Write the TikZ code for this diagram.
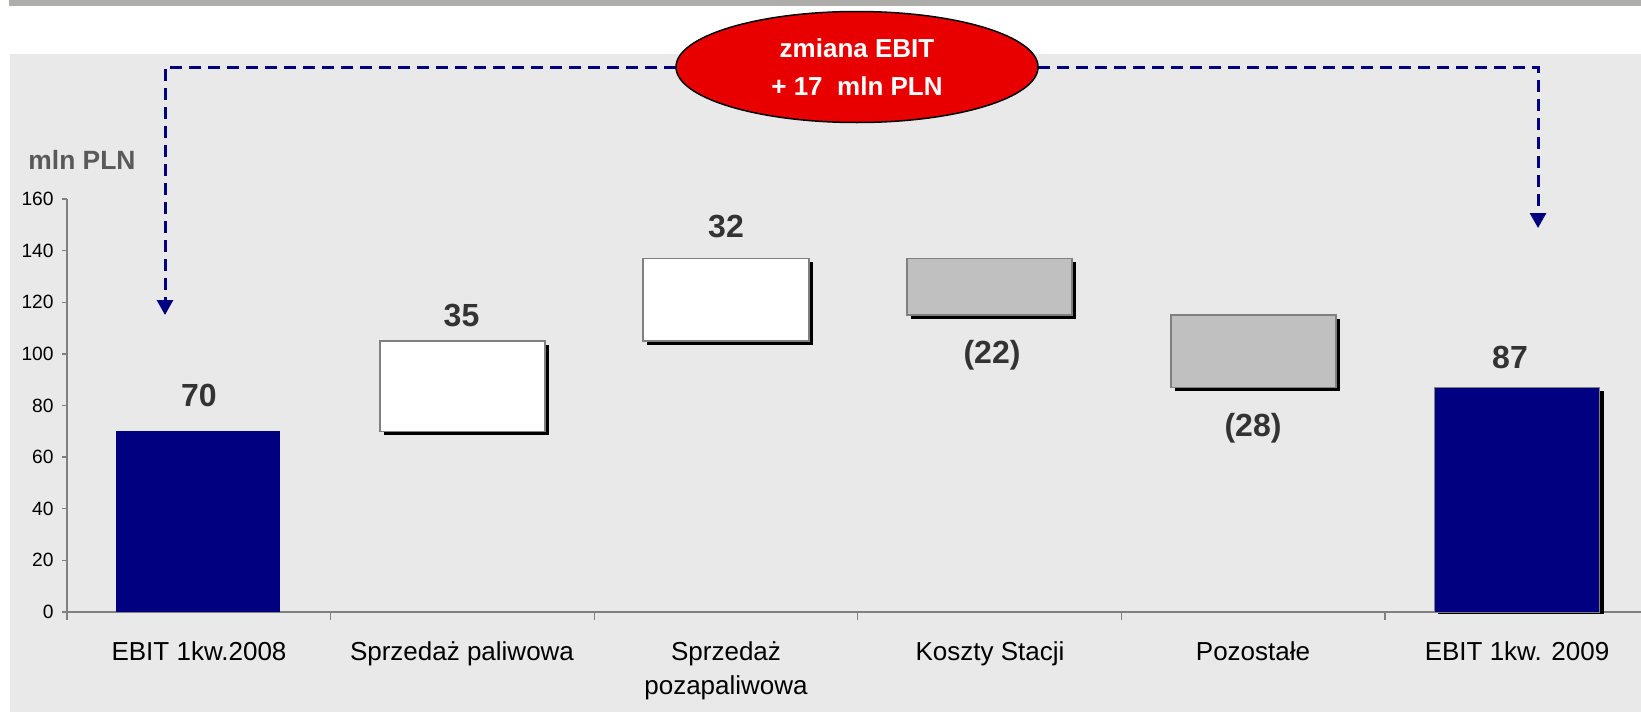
\documentclass[tikz,border=0pt]{standalone}
\usepackage{fontspec}
\setmainfont{Liberation Sans}
\usetikzlibrary{shapes.geometric,arrows.meta}
\definecolor{stripgray}{HTML}{ADADA9}
\definecolor{bggray}{HTML}{E9E9E9}
\definecolor{navyb}{HTML}{000080}
\definecolor{redell}{HTML}{E80000}
\definecolor{axisgray}{HTML}{808080}
\definecolor{valgray}{HTML}{333333}
\definecolor{unitgray}{HTML}{595959}
\definecolor{bargray}{HTML}{C0C0C0}
\tikzset{
  conn/.style={draw=navyb, line width=1.5pt, dash pattern=on 6pt off 3.5pt,
    -{Triangle[width=8pt,length=7.5pt]}},
  axisline/.style={draw=axisgray, line width=0.65pt},
  barshadow/.style={fill=black},
  whitebar/.style={fill=white, draw=axisgray, line width=0.7pt},
  graybar/.style={fill=bargray, draw=axisgray, line width=0.7pt},
  navybar/.style={fill=navyb},
  navybarout/.style={fill=navyb, draw=axisgray, line width=0.5pt},
  vallabel/.style={font=\fontsize{16}{19}\selectfont\bfseries, text=valgray, inner sep=0pt},
  catlabel/.style={font=\fontsize{13}{17}\selectfont, align=center, inner sep=0pt, anchor=base},
  ticklabel/.style={font=\fontsize{9.6}{11}\selectfont, anchor=east, inner sep=0pt},
  ellnode/.style={ellipse, fill=redell, draw=black, line width=0.75pt,
    minimum width=181pt, minimum height=55.5pt, inner sep=0pt, align=center,
    text=white, font=\fontsize{13}{19}\selectfont\bfseries},
}
\begin{document}
\begin{tikzpicture}[x=0.5pt,y=-0.5pt]
\useasboundingbox (0,0) rectangle (1641,712);
% frame
\fill[stripgray] (9,0) rectangle (1641,6);
\fill[bggray] (10,54) rectangle (1641,712);
% unit
\node[font=\fontsize{13.2}{15}\selectfont\bfseries, text=unitgray, inner sep=0pt] (unit) at (82,160) {mln PLN};
% y axis
\draw[axisline] (67,{612-160*2.58125}) -- (67,620);
\foreach \v in {0,20,...,160}{
  \draw[axisline] (62,{612-\v*2.58125}) -- (67,{612-\v*2.58125});
  \node[ticklabel] (t\v) at (54,{612-\v*2.58125}) {\v};
}
% x axis
\draw[axisline] (67,612) -- (1641,612);
\foreach \i in {1,...,5}{
  \draw[axisline] ({67+263.6*\i},612) -- ({67+263.6*\i},620);
}
% bars
\fill[navybar] (116,612) rectangle (280,{612-70*2.58125});
\fill[barshadow] (384,{612-70*2.58125+4}) rectangle (549,{612-105*2.58125+4});
\draw[whitebar] (380,{612-70*2.58125}) rectangle (545,{612-105*2.58125});
\fill[barshadow] (647,{612-105*2.58125+4}) rectangle (813,{612-137*2.58125+4});
\draw[whitebar] (643,{612-105*2.58125}) rectangle (809,{612-137*2.58125});
\fill[barshadow] (911,{612-115*2.58125+4}) rectangle (1076,{612-137*2.58125+4});
\draw[graybar] (907,{612-115*2.58125}) rectangle (1072,{612-137*2.58125});
\fill[barshadow] (1175,{612-87*2.58125+4}) rectangle (1340,{612-115*2.58125+4});
\draw[graybar] (1171,{612-87*2.58125}) rectangle (1336,{612-115*2.58125});
\fill[barshadow] (1438,613.5) rectangle (1603.5,{612-87*2.58125+4});
\draw[navybarout] (1434.5,612) rectangle (1599,{612-87*2.58125});
% value labels
\node[vallabel] (v1) at (199,395) {70};
\node[vallabel] (v2) at (461.5,316) {35};
\node[vallabel] (v3) at (726,227) {32};
\node[vallabel] (v4) at (992,355) {(22)};
\node[vallabel] (v5) at (1253,428) {(28)};
\node[vallabel] (v6) at (1510,357) {87};
% category labels
\node[catlabel] (c1) at (199,660) {EBIT 1kw.2008};
\node[catlabel] (c2) at (462,660) {Sprzedaż paliwowa};
\node[catlabel] (c3) at (726,694) {Sprzedaż\\pozapaliwowa};
\node[catlabel] (c4) at (990,660) {Koszty Stacji};
\node[catlabel] (c5) at (1253,660) {Pozostałe};
\node[catlabel] (c6) at (1517,660) {EBIT 1kw. 2009};
% change ellipse and connectors
\coordinate (tipL) at (165,315);
\coordinate (tipR) at (1538,228);
\draw[conn] (676,67) -| (tipL);
\draw[conn] (1038,67) -| (tipR);
\node[ellnode] (ell) at (857,67) {zmiana EBIT\\+ 17\ \ mln PLN};
\end{tikzpicture}
\end{document}
